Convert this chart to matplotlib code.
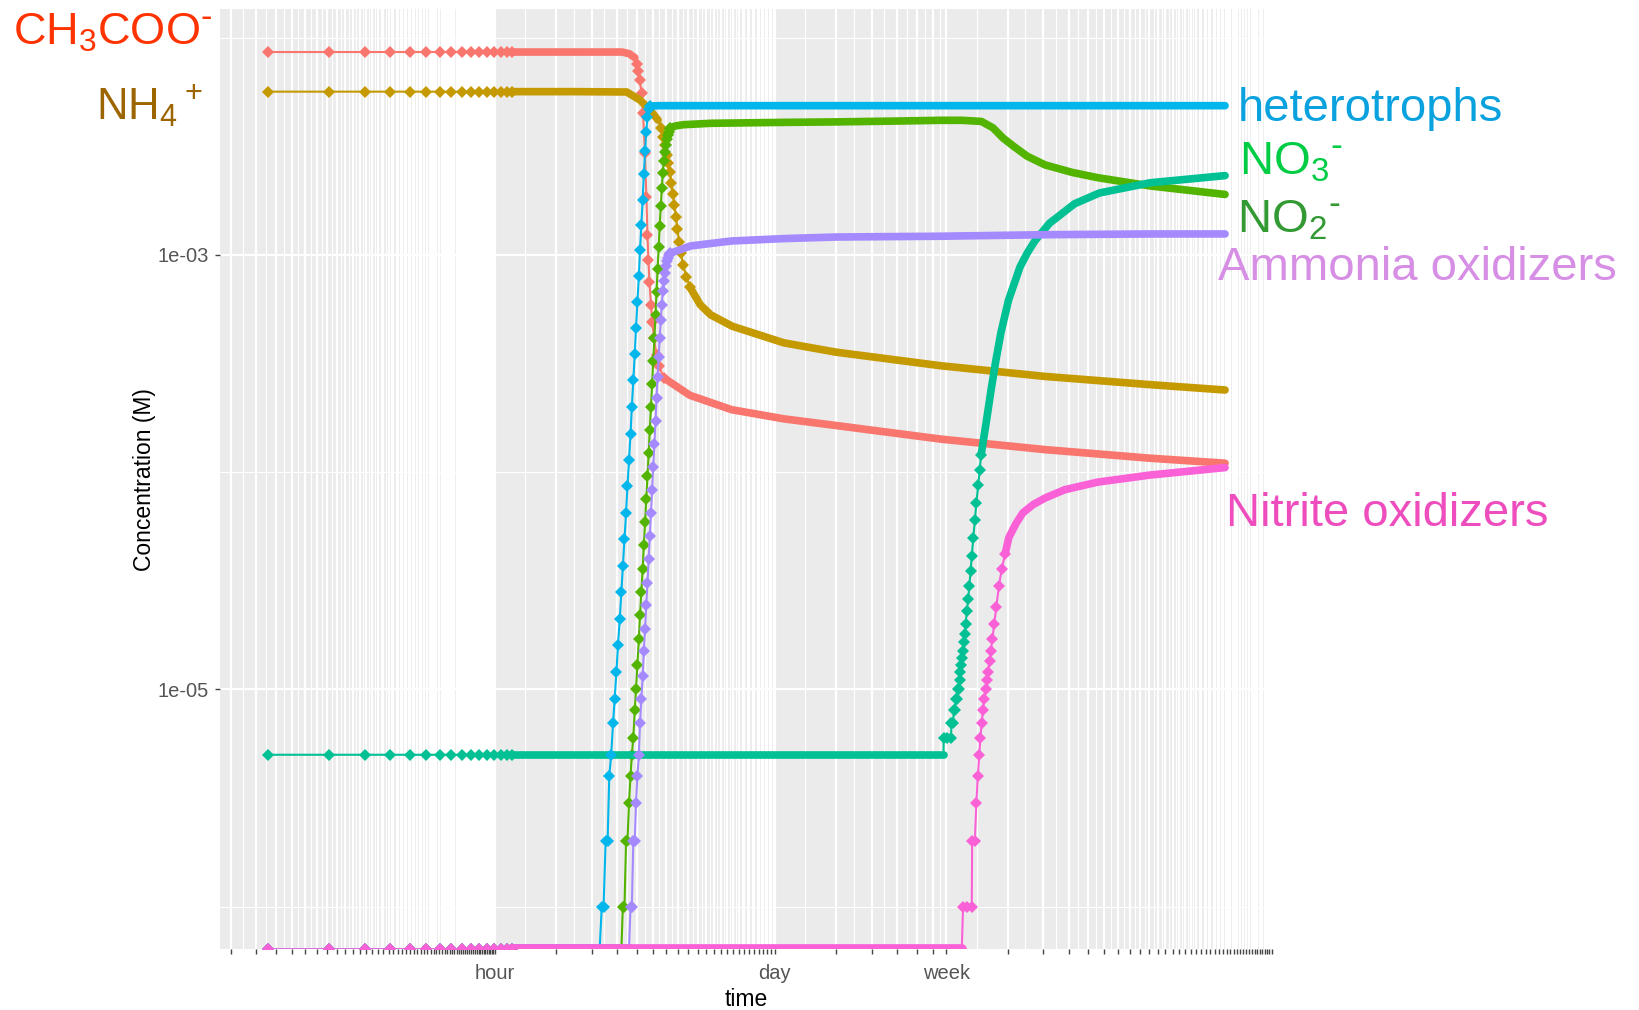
import numpy as np
import matplotlib
matplotlib.use("Agg")
import matplotlib.pyplot as plt
from matplotlib.ticker import FixedLocator, FixedFormatter, NullFormatter

plt.rcParams['font.family'] = ['Liberation Sans', 'DejaVu Sans']
plt.rcParams['mathtext.default'] = 'regular'

W, H = 1639, 1010

DT = 0.0765  # hours between model outputs
head_t = [k * DT for k in range(1, 17)]  # first outputs, drawn as separate points

# times in hours, concentrations in M (0 = below output precision)
acetate_c0 = 8.6e-3
acetate_lead_t = [1.30, 2.5, 4.24, 4.6, 4.9]
acetate_lead_c = [8.6e-3, 8.6e-3, 8.6e-3, 8.45e-3, 8.1e-3]
acetate_pts_t = [5.00, 5.10, 5.19, 5.29, 5.38, 5.50, 5.59, 5.66, 5.72, 5.79, 5.89, 5.99, 6.09, 6.27, 6.45, 6.82]
acetate_pts_c = [7.6e-3, 7.0e-3, 6.4e-3, 5.55e-3, 4.5e-3, 2.95e-3, 1.84e-3, 1.24e-3, 9.5e-4, 7.5e-4,
                 5.9e-4, 4.9e-4, 4.13e-4, 3.46e-4, 3.07e-4, 2.72e-4]
acetate_tail_t = [7.22, 9.15, 14.7, 26.6, 48.1, 157.6, 516, 1687, 3963]
acetate_tail_c = [2.62e-4, 2.26e-4, 1.94e-4, 1.76e-4, 1.64e-4, 1.42e-4, 1.27e-4, 1.16e-4, 1.10e-4]

ammonium_c0 = 5.65e-3
ammonium_lead_t = [1.30, 2.5, 4.47, 5.20, 5.82, 6.38]
ammonium_lead_c = [5.65e-3, 5.65e-3, 5.63e-3, 5.17e-3, 4.65e-3, 4.18e-3]
ammonium_pts_t = [6.60, 6.75, 6.90, 7.06, 7.18, 7.30, 7.42, 7.55, 7.68, 7.82, 7.95, 8.09, 8.28, 8.47, 8.80, 9.17]
ammonium_pts_c = [3.85e-3, 3.5e-3, 3.2e-3, 2.9e-3, 2.65e-3, 2.4e-3, 2.15e-3, 1.9e-3, 1.7e-3, 1.5e-3,
                  1.32e-3, 1.15e-3, 1.02e-3, 9.0e-4, 7.9e-4, 7.1e-4]
ammonium_tail_t = [10.3, 11.6, 14.8, 26.6, 48, 158, 514, 1690, 3963]
ammonium_tail_c = [5.9e-4, 5.3e-4, 4.7e-4, 3.94e-4, 3.57e-4, 3.09e-4, 2.76e-4, 2.53e-4, 2.39e-4]

nitrite_c0 = 0.0
nitrite_lead_t = [1.30, 2.5, 4.21]
nitrite_lead_c = [0.0, 0.0, 0.0]
nitrite_pts_t = [4.28, 4.36, 4.44, 4.51, 4.59, 4.67, 4.74, 4.82, 4.90, 4.97, 5.05, 5.13, 5.20, 5.28,
                 5.36, 5.43, 5.51, 5.58, 5.66, 5.74, 5.81, 5.89, 5.97, 6.04, 6.12, 6.20, 6.27, 6.35,
                 6.43, 6.50, 6.58, 6.66, 6.73, 6.81, 6.89, 6.96, 7.04, 7.11, 7.19, 7.27, 7.34]
nitrite_pts_c = [1e-6, 1e-6, 2e-6, 2e-6, 3e-6, 4e-6, 5e-6, 6e-6, 8e-6, 1.0e-5, 1.3e-5, 1.7e-5, 2.2e-5,
                 2.8e-5, 3.6e-5, 4.6e-5, 5.9e-5, 7.5e-5, 9.6e-5, 1.23e-4, 1.57e-4, 2.0e-4, 2.55e-4,
                 3.25e-4, 4.15e-4, 5.3e-4, 6.75e-4, 8.6e-4, 1.09e-3, 1.36e-3, 1.68e-3, 2.03e-3, 2.38e-3,
                 2.7e-3, 2.98e-3, 3.22e-3, 3.42e-3, 3.58e-3, 3.7e-3, 3.79e-3, 3.86e-3]
nitrite_tail_t = [7.8, 8.5, 11.6, 26.6, 48, 100, 158, 200, 250, 285, 320, 361, 420, 514, 700, 934, 1690, 3963]
nitrite_tail_c = [3.93e-3, 3.98e-3, 4.04e-3, 4.08e-3, 4.1e-3, 4.14e-3, 4.17e-3, 4.17e-3, 4.12e-3, 3.85e-3,
                  3.45e-3, 3.16e-3, 2.85e-3, 2.6e-3, 2.4e-3, 2.27e-3, 2.08e-3, 1.9e-3]

nitrate_c0 = 5e-6
nitrate_lead_t = [1.30, 10, 162.6]
nitrate_lead_c = [5e-6, 5e-6, 5e-6]
nitrate_pts_t = [163.0, 170, 177, 178, 181, 183, 185, 187, 189, 191, 193, 195, 197, 199, 201, 203, 205, 207,
                 209, 212, 215, 218, 221, 224, 228, 232, 236, 241, 245, 249]
nitrate_pts_c = [6e-6, 6e-6, 6e-6, 7e-6, 7e-6, 8e-6, 8e-6, 9e-6, 9e-6, 1.0e-5, 1.0e-5, 1.1e-5, 1.2e-5,
                 1.3e-5, 1.4e-5, 1.5e-5, 1.65e-5, 1.8e-5, 2.0e-5, 2.3e-5, 2.6e-5, 3.0e-5, 3.5e-5, 4.1e-5,
                 5.0e-5, 6.0e-5, 7.2e-5, 8.7e-5, 1.02e-4, 1.2e-4]
nitrate_tail_t = [264, 279, 295, 312, 340, 387, 420, 458, 541, 718, 953, 1690, 3963]
nitrate_tail_c = [1.7e-4, 2.4e-4, 3.3e-4, 4.4e-4, 6.2e-4, 8.8e-4, 1.02e-3, 1.16e-3, 1.4e-3, 1.72e-3,
                  1.93e-3, 2.15e-3, 2.32e-3]

hetero_c0 = 0.0
hetero_lead_t = [1.30, 2.5, 3.29]
hetero_lead_c = [0.0, 0.0, 0.0]
hetero_pts_t = [3.37, 3.44, 3.52, 3.60, 3.67, 3.75, 3.83, 3.90, 3.98, 4.05, 4.13, 4.21, 4.28, 4.36, 4.44,
                4.51, 4.59, 4.67, 4.74, 4.82, 4.90, 4.97, 5.05, 5.13, 5.20, 5.28, 5.36, 5.43, 5.51, 5.58,
                5.66, 5.74, 5.81]
hetero_pts_c = [1e-6, 1e-6, 2e-6, 2e-6, 4e-6, 5e-6, 7e-6, 9e-6, 1.2e-5, 1.6e-5, 2.1e-5, 2.8e-5, 3.7e-5,
                4.9e-5, 6.5e-5, 8.6e-5, 1.14e-4, 1.5e-4, 2.0e-4, 2.65e-4, 3.5e-4, 4.6e-4, 6.1e-4, 8.0e-4,
                1.05e-3, 1.38e-3, 1.8e-3, 2.35e-3, 3.0e-3, 3.7e-3, 4.3e-3, 4.7e-3, 4.85e-3]
hetero_tail_t = [6.5, 3963]
hetero_tail_c = [4.87e-3, 4.87e-3]

aob_c0 = 0.0
aob_lead_t = [1.30, 2.5, 4.59]
aob_lead_c = [0.0, 0.0, 0.0]
aob_pts_t = [4.67, 4.74, 4.82, 4.90, 4.97, 5.05, 5.13, 5.20, 5.28, 5.36, 5.43, 5.51, 5.58, 5.66, 5.74,
             5.81, 5.89, 5.97, 6.04, 6.12, 6.20, 6.27, 6.35, 6.43, 6.50, 6.58, 6.66, 6.73, 6.81, 6.89,
             6.96, 7.04, 7.11, 7.19, 7.27, 7.34]
aob_pts_c = [1e-6, 1e-6, 2e-6, 2e-6, 3e-6, 4e-6, 5e-6, 7e-6, 9e-6, 1.15e-5, 1.5e-5, 1.9e-5, 2.45e-5,
             3.1e-5, 4.0e-5, 5.1e-5, 6.5e-5, 8.3e-5, 1.06e-4, 1.35e-4, 1.72e-4, 2.2e-4, 2.75e-4, 3.4e-4,
             4.15e-4, 5.0e-4, 5.9e-4, 6.8e-4, 7.6e-4, 8.3e-4, 8.9e-4, 9.35e-4, 9.7e-4, 9.95e-4, 1.01e-3,
             1.02e-3]
aob_tail_t = [7.8, 8.5, 9.2, 11.6, 14.7, 26.6, 48, 158, 516, 1690, 3963]
aob_tail_c = [1.04e-3, 1.07e-3, 1.1e-3, 1.13e-3, 1.16e-3, 1.19e-3, 1.21e-3, 1.22e-3, 1.24e-3, 1.25e-3, 1.25e-3]

nob_c0 = 0.0
nob_lead_t = [1.30, 50, 200]
nob_lead_c = [0.0, 0.0, 0.0]
nob_pts_t = [203, 212, 224, 225, 232, 236, 240, 244, 247, 251, 254, 258, 263, 266, 270, 274, 278, 283,
             289, 296, 305, 315, 327]
nob_pts_c = [1e-6, 1e-6, 1e-6, 2e-6, 2e-6, 3e-6, 4e-6, 5e-6, 6e-6, 7e-6, 8e-6, 9e-6, 1.0e-5, 1.1e-5,
             1.2e-5, 1.35e-5, 1.5e-5, 1.7e-5, 2.0e-5, 2.4e-5, 3.0e-5, 3.6e-5, 4.2e-5]
nob_tail_t = [341, 370, 400, 450, 514, 642, 934, 1690, 3963]
nob_tail_c = [5.0e-5, 5.8e-5, 6.5e-5, 7.1e-5, 7.6e-5, 8.3e-5, 9.0e-5, 9.7e-5, 1.05e-4]

# ggplot hue palette, in group order (later groups drawn on top)
series = [
    (acetate_c0, acetate_lead_t, acetate_lead_c, acetate_pts_t, acetate_pts_c, acetate_tail_t, acetate_tail_c, '#F8766D'),
    (ammonium_c0, ammonium_lead_t, ammonium_lead_c, ammonium_pts_t, ammonium_pts_c, ammonium_tail_t, ammonium_tail_c, '#C49A00'),
    (nitrite_c0, nitrite_lead_t, nitrite_lead_c, nitrite_pts_t, nitrite_pts_c, nitrite_tail_t, nitrite_tail_c, '#53B400'),
    (nitrate_c0, nitrate_lead_t, nitrate_lead_c, nitrate_pts_t, nitrate_pts_c, nitrate_tail_t, nitrate_tail_c, '#00C094'),
    (hetero_c0, hetero_lead_t, hetero_lead_c, hetero_pts_t, hetero_pts_c, hetero_tail_t, hetero_tail_c, '#00B6EB'),
    (aob_c0, aob_lead_t, aob_lead_c, aob_pts_t, aob_pts_c, aob_tail_t, aob_tail_c, '#A58AFF'),
    (nob_c0, nob_lead_t, nob_lead_c, nob_pts_t, nob_pts_c, nob_tail_t, nob_tail_c, '#FB61D7'),
]

# axis ranges: data range on log scale plus 5 % on each side
t_lo, t_hi = np.log10(head_t[0]), np.log10(3963)
c_lo, c_hi = np.log10(1e-6), np.log10(acetate_c0)
pad_t, pad_c = 0.05 * (t_hi - t_lo), 0.05 * (c_hi - c_lo)
xlim = (10 ** (t_lo - pad_t), 10 ** (t_hi + pad_t))
ylim = (10 ** (c_lo - pad_c), 10 ** (c_hi + pad_c))

fig = plt.figure(figsize=(W / 100, H / 100), dpi=100)
ax = fig.add_axes([220.2 / W, 1 - 949.3 / H, 1052.7 / W, 940.0 / H])
ax.set_facecolor('#EBEBEB')
for s in ax.spines.values():
    s.set_visible(False)
ax.set_xscale('log')
ax.set_yscale('log')
ax.set_xlim(*xlim)
ax.set_ylim(*ylim)


def floor(c):
    # zero concentrations are squished onto the lower edge of the panel
    c = np.asarray(c, float)
    return np.where(c > 0, c, ylim[0])


for z, (c0, lt, lc, pt, pc, tt, tc, col) in enumerate(series):
    zo = 3 + z
    all_t = np.concatenate([head_t, lt, pt, tt])
    all_c = np.concatenate([[c0] * len(head_t), lc, pc, tc])
    ax.plot(all_t, floor(all_c), color=col, lw=1.5, zorder=zo)
    # separate outputs
    dots_t = np.concatenate([head_t, pt])
    dots_c = np.concatenate([[c0] * len(head_t), pc])
    ax.plot(dots_t, floor(dots_c), ls='none', marker='D', ms=5.8, mew=0, color=col, zorder=zo)
    # outputs packed so densely they merge into a band
    b1_t = np.concatenate([[head_t[-1]], lt])
    b1_c = np.concatenate([[c0], lc])
    b2_t = np.concatenate([[pt[-1]], tt])
    b2_c = np.concatenate([[pc[-1]], tc])
    for bt, bc in ((b1_t, b1_c), (b2_t, b2_c)):
        lw = 7 if c0 == 0 and bt is b1_t else 5.5
        ax.plot(bt, floor(bc), color=col, lw=lw, solid_capstyle='round',
                solid_joinstyle='round', zorder=zo)

# time breaks: every minute up to an hour, every hour up to a day,
# every day up to a week, then every week
minutes = [m / 60 for m in range(1, 60)]
hours = list(range(1, 24))
days = [24 * d for d in range(1, 7)]
weeks = [168 * w for w in range(1, 41)]
breaks = [b for b in minutes + hours + days + weeks if xlim[0] <= b <= xlim[1]]
named = {1: 'hour', 24: 'day', 168: 'week'}
labels = [named.get(b, '') for b in breaks]
lb = np.log10(breaks)
minor_x = list(10 ** ((lb[:-1] + lb[1:]) / 2))

ax.xaxis.set_major_locator(FixedLocator(breaks))
ax.xaxis.set_major_formatter(FixedFormatter(labels))
ax.xaxis.set_minor_locator(FixedLocator(minor_x))
ax.xaxis.set_minor_formatter(NullFormatter())

ax.yaxis.set_major_locator(FixedLocator([1e-5, 1e-3]))
ax.yaxis.set_major_formatter(FixedFormatter(['1e-05', '1e-03']))
ax.yaxis.set_minor_locator(FixedLocator([1e-6, 1e-4, 1e-2]))
ax.yaxis.set_minor_formatter(NullFormatter())

ax.tick_params(which='major', length=3.5, width=1.0, color='#444444',
               labelcolor='#555555', labelsize=14.5, pad=4.5)
ax.tick_params(axis='x', which='major', pad=7)
ax.tick_params(which='minor', length=0)
ax.grid(which='major', color='white', lw=1.6)
ax.grid(which='minor', color='white', lw=0.8)
ax.set_axisbelow(True)

ax.set_xlabel('time', fontsize=16.5, color='black')
ax.xaxis.set_label_coords(0.5, -(988 - 949.3) / 940)
ax.set_ylabel('Concentration (M)', fontsize=16.5, color='black', va='center')
ax.yaxis.set_label_coords((145 - 220.2) / 1052.7, 0.5)


def put(x, y, s, color, size):
    fig.text(x / W, 1 - y / H, s, color=color, fontsize=size, ha='left', va='baseline')


put(13, 45, r'$\mathregular{CH_3COO^{\text{-}}}$', '#FF3300', 32.5)
put(96, 120, r'$\mathregular{NH_4{}^+}$', '#9C6500', 31.5)
put(1238, 121, 'heterotrophs', '#0AA2DE', 34)
put(1239, 175, r'$\mathregular{NO_3{}^{\text{-}}}$', '#00CC44', 34)
put(1237, 232, r'$\mathregular{NO_2{}^{\text{-}}}$', '#339933', 34)
put(1218, 280, 'Ammonia oxidizers', '#D68FE5', 34)
put(1226, 526, 'Nitrite oxidizers', '#EE4DBE', 34)

fig.savefig('out.png', dpi=100)
